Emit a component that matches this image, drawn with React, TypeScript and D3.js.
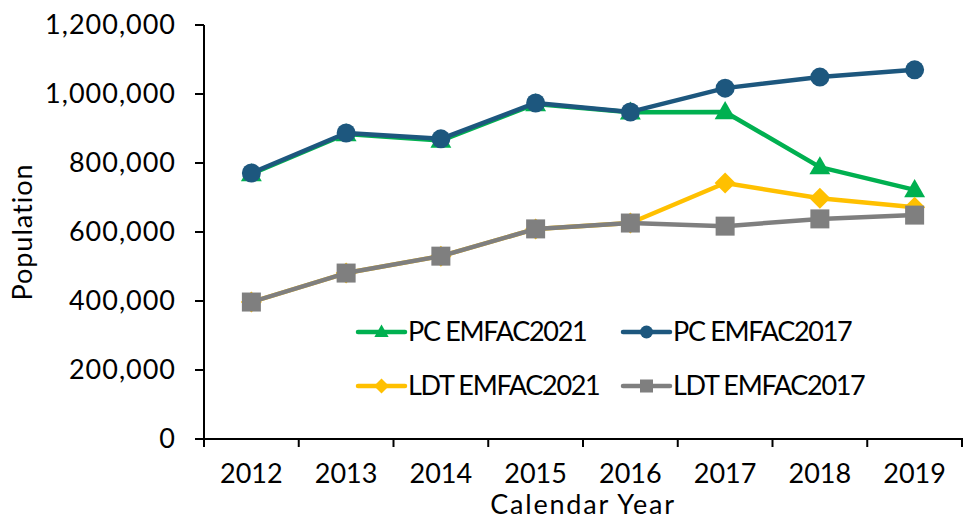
import React from "react";
import * as d3 from "d3";

const years = ["2012", "2013", "2014", "2015", "2016", "2017", "2018", "2019"];
const pcEmfac2021 = [768000, 884000, 865000, 971000, 947000, 948000, 788000, 722000];
const pcEmfac2017 = [771000, 887000, 870000, 974000, 948000, 1017000, 1049000, 1070000];
const ldtEmfac2021 = [397000, 481000, 530000, 609000, 626000, 742000, 698000, 672000];
const ldtEmfac2017 = [397000, 481000, 530000, 609000, 626000, 617000, 638000, 649000];
const yTicks = [0, 200000, 400000, 600000, 800000, 1000000, 1200000];

const series = [
  { name: "PC EMFAC2021", values: pcEmfac2021, color: "#00B050", marker: "triangle" },
  { name: "PC EMFAC2017", values: pcEmfac2017, color: "#1D577E", marker: "circle" },
  { name: "LDT EMFAC2021", values: ldtEmfac2021, color: "#FFC000", marker: "diamond" },
  { name: "LDT EMFAC2017", values: ldtEmfac2017, color: "#7F7F7F", marker: "square" },
];

const W = 968, H = 520;
const left = 204, right = 962, top = 25, bottom = 439;
const FONT = "Lato, 'Noto Sans', sans-serif";
const FS = 27;

function Marker({ type, x, y, s, color }: { type: string; x: number; y: number; s: number; color: string }) {
  if (type === "circle") return <circle cx={x} cy={y} r={s / 2} fill={color} />;
  if (type === "square") return <rect x={x - s / 2} y={y - s / 2} width={s} height={s} fill={color} />;
  if (type === "diamond") {
    const h = s / 2 + 1;
    return <path d={`M${x},${y - h}L${x + h},${y}L${x},${y + h}L${x - h},${y}Z`} fill={color} />;
  }
  const w = s * 1.1, h = s * 0.95;
  return <path d={`M${x},${y - h * 0.6}L${x + w / 2},${y + h * 0.4}L${x - w / 2},${y + h * 0.4}Z`} fill={color} />;
}

export default function App() {
  const x = d3.scaleBand().domain(years).range([left, right]);
  const y = d3.scaleLinear().domain([0, 1200000]).range([bottom, top]);
  const fmt = d3.format(",");
  const line = d3
    .line<number>()
    .x((_, i) => (x(years[i]) as number) + x.bandwidth() / 2)
    .y((d) => y(d));

  const legendPos = [
    { lx: 358, ly: 332 },
    { lx: 623, ly: 332 },
    { lx: 358, ly: 386 },
    { lx: 623, ly: 386 },
  ];

  return (
    <svg width={W} height={H} style={{ position: "absolute", left: 0, top: 0 }} fontFamily={FONT}>
      <rect width={W} height={H} fill="#fff" />
      {/* axes */}
      <line x1={left} x2={left} y1={top} y2={bottom + 1} stroke="#000" strokeWidth={2} />
      <line x1={left - 9} x2={right + 1} y1={bottom} y2={bottom} stroke="#000" strokeWidth={2} />
      {yTicks.map((t) => (
        <g key={t}>
          <line x1={left - 9} x2={left} y1={y(t)} y2={y(t)} stroke="#000" strokeWidth={2} />
          <text x={176} y={y(t)} dy="0.35em" textAnchor="end" fontSize={FS} letterSpacing={1} fill="#000">
            {fmt(t)}
          </text>
        </g>
      ))}
      {years.map((yr, i) => (
        <line
          key={"t" + yr}
          x1={left + x.step() * i}
          x2={left + x.step() * i}
          y1={bottom}
          y2={bottom + 8}
          stroke="#000"
          strokeWidth={2}
        />
      ))}
      <line x1={right} x2={right} y1={bottom} y2={bottom + 8} stroke="#000" strokeWidth={2} />
      {years.map((yr) => (
        <text
          key={yr}
          x={(x(yr) as number) + x.bandwidth() / 2}
          y={483}
          textAnchor="middle"
          fontSize={FS}
          fill="#000"
        >
          {yr}
        </text>
      ))}
      <text x={583} y={514} textAnchor="middle" fontSize={FS} letterSpacing={1.8} fill="#000">
        Calendar Year
      </text>
      <text
        transform={`translate(32,${(top + bottom) / 2}) rotate(-90)`}
        textAnchor="middle"
        fontSize={FS}
        letterSpacing={1}
        fill="#000"
      >
        Population
      </text>
      {/* series */}
      {series.map((s) => (
        <g key={s.name}>
          <path d={line(s.values) || ""} fill="none" stroke={s.color} strokeWidth={4.5} strokeLinejoin="round" />
          {s.values.map((v, i) => (
            <Marker
              key={i}
              type={s.marker}
              x={(x(years[i]) as number) + x.bandwidth() / 2}
              y={y(v)}
              s={19}
              color={s.color}
            />
          ))}
        </g>
      ))}
      {/* legend */}
      {series.map((s, i) => {
        const p = legendPos[i];
        return (
          <g key={"lg" + s.name}>
            <line x1={p.lx} x2={p.lx + 47} y1={p.ly} y2={p.ly} stroke={s.color} strokeWidth={4.5} strokeLinecap="round" />
            <Marker type={s.marker} x={p.lx + 23.5} y={p.ly} s={13} color={s.color} />
            <text x={p.lx + 50} y={p.ly} dy="0.35em" fontSize={FS} letterSpacing={-1.3} fill="#000">
              {s.name}
            </text>
          </g>
        );
      })}
    </svg>
  );
}
